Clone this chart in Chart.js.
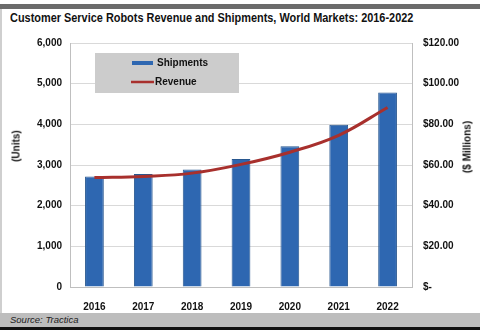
<!DOCTYPE html>
<html>
<head>
<meta charset="utf-8">
<script src="https://cdn.jsdelivr.net/npm/chart.js@4"></script>
<style>
  body { margin: 0; background: #fff; font-family: "Liberation Sans", Arial, sans-serif; }
  #frame { position: relative; width: 480px; height: 330px; overflow: hidden; }
  #topband { position: absolute; left: 0; top: 4px; width: 480px; height: 5px; background: #6b6b6b; }
  #leftline { position: absolute; left: 0; top: 9px; width: 2px; height: 304px; background: #cfcfcf; }
  #title { position: absolute; left: 10px; top: 10px; font-size: 13px; font-weight: bold; color: #111;
           white-space: nowrap; transform: scaleX(0.84); transform-origin: left top; }
  .axtitle { position: absolute; font-size: 10px; font-weight: bold; color: #111; white-space: nowrap;
             transform: translate(-50%, -50%) rotate(-90deg); }
  #footer { position: absolute; left: 0; top: 313px; width: 480px; height: 14px; background: #bdbdbd; }
  #footer span { position: absolute; left: 10px; top: 1px; font-size: 9.5px; font-style: italic; color: #222; }
  #bottomline { position: absolute; left: 0; top: 327px; width: 480px; height: 3px; background: #111; }
  #plot { position: absolute; left: 0; top: 0; }
</style>
</head>
<body>
<div id="frame">
  <div id="topband"></div>
  <div id="leftline"></div>
  <div id="title">Customer Service Robots Revenue and Shipments, World Markets: 2016-2022</div>
  <canvas id="plot" width="480" height="312"></canvas>
  <div class="axtitle" style="left:16px; top:146px;">(Units)</div>
  <div class="axtitle" style="left:467px; top:147px;">($ Millions)</div>
  <div id="footer"><span>Source: Tractica</span></div>
  <div id="bottomline"></div>
</div>
<script>
const years = ['2016', '2017', '2018', '2019', '2020', '2021', '2022'];
const shipments = [2720, 2780, 2890, 3150, 3460, 3990, 4780];
const revenue = [53.8, 54.4, 56, 60.3, 66.3, 74.6, 88.3];

const barBlue = '#2e67b1';
const lineRed = '#a8302d';

// legend drawn as a grey box inside the plot area, like the original
const boxLegend = {
    id: 'boxLegend',
    beforeDatasetsDraw(chart) {
        const { ctx, chartArea } = chart;
        const x = chartArea.left + 25, y = chartArea.top + 10;
        ctx.save();
        ctx.fillStyle = '#cccccc';
        ctx.fillRect(x, y, 144, 40);
        ctx.font = 'bold 10px "Liberation Sans", Arial, sans-serif';
        ctx.textBaseline = 'middle';
        ctx.fillStyle = '#111';
        const ds = chart.data.datasets;
        // shipments entry
        ctx.fillStyle = ds[0].backgroundColor;
        ctx.fillRect(x + 37, y + 8, 21, 4);
        ctx.fillStyle = '#111';
        ctx.fillText(ds[0].label, x + 62, y + 10);
        // revenue entry
        ctx.strokeStyle = ds[1].borderColor;
        ctx.lineWidth = 2.5;
        ctx.beginPath();
        ctx.moveTo(x + 36, y + 29);
        ctx.lineTo(x + 59, y + 29);
        ctx.stroke();
        ctx.fillText(ds[1].label, x + 60, y + 29);
        ctx.restore();
    }
};

const tickFont = { family: '"Liberation Sans", Arial, sans-serif', size: 10, weight: 'bold' };

new Chart(document.getElementById('plot').getContext('2d'), {
    type: 'bar',
    data: {
        labels: years,
        datasets: [
            { label: 'Shipments', data: shipments, backgroundColor: barBlue, borderColor: '#28578f', borderWidth: 1,
              barPercentage: 0.48, categoryPercentage: 0.8, yAxisID: 'y', order: 1 },
            { type: 'line', label: 'Revenue', data: revenue, borderColor: lineRed, borderWidth: 3, pointRadius: 0,
              tension: 0.4, fill: false, yAxisID: 'y1', order: 0 }
        ]
    },
    options: {
        responsive: false,
        animation: false,
        layout: { padding: { top: 43, left: 0, right: 0, bottom: 0 } },
        plugins: { legend: { display: false }, tooltip: { enabled: false } },
        scales: {
            x: {
                grid: { display: false },
                border: { display: true, color: '#bfbfbf' },
                ticks: { font: tickFont, color: '#111', padding: 6 },
                afterFit(scale) { scale.height = 25; }
            },
            y: {
                position: 'left',
                min: 0, max: 6000,
                grid: { color: '#d9d9d9', drawTicks: false },
                border: { display: true, color: '#bfbfbf' },
                ticks: { stepSize: 1000, font: tickFont, color: '#111', padding: 8,
                         callback: v => v.toLocaleString('en-US') },
                afterFit(scale) { scale.width = 70; }
            },
            y1: {
                position: 'right',
                min: 0, max: 120,
                grid: { drawOnChartArea: false, drawTicks: false },
                border: { display: true, color: '#bfbfbf' },
                ticks: { stepSize: 20, font: tickFont, color: '#111', padding: 11,
                         callback: v => v === 0 ? '$-' : '$' + v.toFixed(2) },
                afterFit(scale) { scale.width = 68; }
            }
        }
    },
    plugins: [boxLegend]
});
</script>
</body>
</html>
